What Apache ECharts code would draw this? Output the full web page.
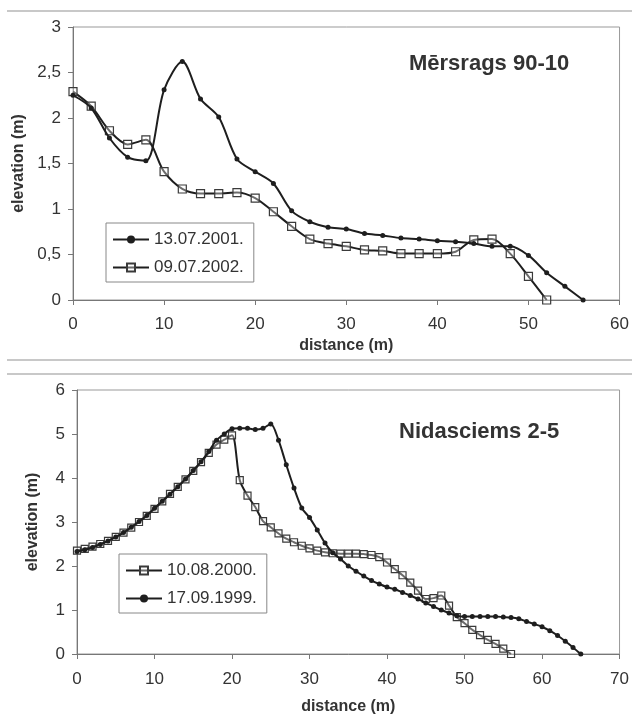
<!DOCTYPE html>
<html>
<head>
<meta charset="utf-8">
<script src="https://cdn.jsdelivr.net/npm/echarts@6/dist/echarts.min.js"></script>
<style>
  html, body { margin: 0; padding: 0; background: #fff; }
  #chart { width: 632px; height: 720px; }
</style>
</head>
<body>
<div id="chart"></div>
<script>
// Mērsrags 90-10 (top panel)
const mersDist2001 = [0, 2, 4, 6, 8, 10, 12, 14, 16, 18, 20, 22, 24, 26, 28, 30, 32, 34, 36, 38, 40, 42, 44, 46, 48, 50, 52, 54, 56];
const mersElev2001 = [2.25, 2.11, 1.78, 1.57, 1.53, 2.31, 2.62, 2.21, 2.01, 1.55, 1.41, 1.28, 0.98, 0.86, 0.80, 0.78, 0.73, 0.71, 0.68, 0.67, 0.65, 0.64, 0.62, 0.59, 0.59, 0.49, 0.30, 0.15, 0];
const mersDist2002 = [0, 2, 4, 6, 8, 10, 12, 14, 16, 18, 20, 22, 24, 26, 28, 30, 32, 34, 36, 38, 40, 42, 44, 46, 48, 50, 52];
const mersElev2002 = [2.29, 2.13, 1.86, 1.71, 1.76, 1.41, 1.22, 1.17, 1.17, 1.18, 1.12, 0.97, 0.81, 0.67, 0.62, 0.59, 0.55, 0.54, 0.51, 0.51, 0.51, 0.53, 0.66, 0.67, 0.51, 0.26, 0];

// Nidasciems 2-5 (bottom panel)
const nidaDist2000 = [0, 1, 2, 3, 4, 5, 6, 7, 8, 9, 10, 11, 12, 13, 14, 15, 16, 17, 18, 19, 20, 21, 22, 23, 24, 25, 26, 27, 28, 29, 30, 31, 32, 33, 34, 35, 36, 37, 38, 39, 40, 41, 42, 43, 44, 45, 46, 47, 48, 49, 50, 51, 52, 53, 54, 55, 56];
const nidaElev2000 = [2.35, 2.39, 2.44, 2.5, 2.57, 2.66, 2.76, 2.87, 3.0, 3.14, 3.3, 3.47, 3.64, 3.8, 3.97, 4.16, 4.36, 4.57, 4.76, 4.87, 4.97, 3.95, 3.6, 3.34, 3.02, 2.88, 2.74, 2.62, 2.54, 2.46, 2.4, 2.35, 2.31, 2.29, 2.28, 2.28, 2.28, 2.27, 2.25, 2.2, 2.08, 1.93, 1.79, 1.62, 1.44, 1.25, 1.27, 1.33, 1.1, 0.84, 0.7, 0.55, 0.43, 0.32, 0.23, 0.12, 0];
const nidaDist1999 = [0, 1, 2, 3, 4, 5, 6, 7, 8, 9, 10, 11, 12, 13, 14, 15, 16, 17, 18, 19, 20, 21, 22, 23, 24, 25, 26, 27, 28, 29, 30, 31, 32, 33, 34, 35, 36, 37, 38, 39, 40, 41, 42, 43, 44, 45, 46, 47, 48, 49, 50, 51, 52, 53, 54, 55, 56, 57, 58, 59, 60, 61, 62, 63, 64, 65];
const nidaElev1999 = [2.33, 2.37, 2.42, 2.49, 2.57, 2.66, 2.76, 2.88, 3.01, 3.15, 3.31, 3.47, 3.63, 3.8, 3.98, 4.17, 4.37, 4.6, 4.86, 5.0, 5.12, 5.13, 5.13, 5.1, 5.13, 5.23, 4.86, 4.3, 3.77, 3.32, 3.1, 2.82, 2.52, 2.3, 2.16, 2.0, 1.88, 1.77, 1.67, 1.59, 1.52, 1.47, 1.4, 1.33, 1.25, 1.16, 1.08, 1.0, 0.93, 0.87, 0.85, 0.85, 0.85, 0.85, 0.85, 0.84, 0.83, 0.8, 0.74, 0.68, 0.62, 0.53, 0.42, 0.29, 0.15, 0];

const pairs = (xs, ys) => xs.map((x, i) => [x, ys[i]]);

const FONT = "'Liberation Sans', Arial, sans-serif";
const INK = '#1e1e1e';
const TXT = '#333';

function xAxisFor(gridIndex, max, labelMargin, nameGap) {
  return {
    type: 'value', gridIndex, min: 0, max, interval: 10,
    name: 'distance (m)', nameLocation: 'middle', nameGap,
    nameTextStyle: { fontFamily: FONT, fontSize: 16, fontWeight: 'bold', color: TXT },
    axisLine: { show: true, lineStyle: { color: '#777', width: 1 } },
    axisTick: { show: true, length: 5, lineStyle: { color: '#777' } },
    axisLabel: { margin: labelMargin, fontFamily: FONT, fontSize: 17, color: TXT },
    splitLine: { show: false }
  };
}

function yAxisFor(gridIndex, max, interval, nameGap) {
  return {
    type: 'value', gridIndex, min: 0, max, interval,
    name: 'elevation (m)', nameLocation: 'middle', nameGap,
    nameTextStyle: { fontFamily: FONT, fontSize: 16, fontWeight: 'bold', color: TXT },
    axisLine: { show: true, lineStyle: { color: '#777', width: 1 } },
    axisTick: { show: true, length: 5, lineStyle: { color: '#777' } },
    axisLabel: {
      margin: 12, fontFamily: FONT, fontSize: 17, color: TXT,
      formatter: v => String(v).replace('.', ',')
    },
    splitLine: { show: false }
  };
}

function dotSeries(name, idx, data) {
  return {
    name, type: 'line', xAxisIndex: idx, yAxisIndex: idx, data,
    smooth: 0.3, symbol: 'circle', symbolSize: 5,
    lineStyle: { color: INK, width: 2 },
    itemStyle: { color: INK },
    z: 3
  };
}

function squareSeries(name, idx, data, size) {
  return {
    name, type: 'line', xAxisIndex: idx, yAxisIndex: idx, data,
    smooth: 0.3, symbol: 'rect', symbolSize: size,
    lineStyle: { color: INK, width: 2 },
    itemStyle: { color: 'rgba(255,255,255,0.35)', borderColor: '#3a3a3a', borderWidth: 1.2 },
    z: 2
  };
}

function legendFor(left, top, names) {
  return {
    orient: 'vertical', left, top, data: names,
    backgroundColor: '#fff', borderColor: '#888', borderWidth: 1,
    padding: [8, 10, 6, 6], itemGap: 11, itemWidth: 36, itemHeight: 10,
    textStyle: { fontFamily: FONT, fontSize: 17, color: TXT }
  };
}

const chart = echarts.init(document.getElementById('chart'));
chart.setOption({
  backgroundColor: '#fff',
  animation: false,
  title: [
    { text: 'Mērsrags 90-10', left: 404, top: 48,
      textStyle: { fontFamily: FONT, fontSize: 22, fontWeight: 'bold', color: TXT } },
    { text: 'Nidasciems 2-5', left: 394, top: 416,
      textStyle: { fontFamily: FONT, fontSize: 22, fontWeight: 'bold', color: TXT } }
  ],
  grid: [
    { left: 73, top: 27, width: 549, height: 273, show: true, borderColor: '#999', borderWidth: 1, backgroundColor: '#fff' },
    { left: 77, top: 390, width: 546, height: 264, show: true, borderColor: '#999', borderWidth: 1, backgroundColor: '#fff' }
  ],
  xAxis: [xAxisFor(0, 60, 16, 38), xAxisFor(1, 70, 17, 45)],
  yAxis: [yAxisFor(0, 3, 0.5, 40), yAxisFor(1, 6, 1, 36)],
  legend: [
    legendFor(106, 223, ['13.07.2001.', '09.07.2002.']),
    legendFor(119, 554, ['10.08.2000.', '17.09.1999.'])
  ],
  graphic: [
    { type: 'line', shape: { x1: 7, y1: 11, x2: 632, y2: 11 }, style: { stroke: '#c8c8c8', lineWidth: 2 } },
    { type: 'line', shape: { x1: 7, y1: 360, x2: 632, y2: 360 }, style: { stroke: '#c8c8c8', lineWidth: 2 } },
    { type: 'line', shape: { x1: 7, y1: 374, x2: 632, y2: 374 }, style: { stroke: '#c8c8c8', lineWidth: 2 } }
  ],
  series: [
    dotSeries('13.07.2001.', 0, pairs(mersDist2001, mersElev2001)),
    squareSeries('09.07.2002.', 0, pairs(mersDist2002, mersElev2002), 8),
    squareSeries('10.08.2000.', 1, pairs(nidaDist2000, nidaElev2000), 7),
    dotSeries('17.09.1999.', 1, pairs(nidaDist1999, nidaElev1999))
  ]
});
</script>
</body>
</html>
